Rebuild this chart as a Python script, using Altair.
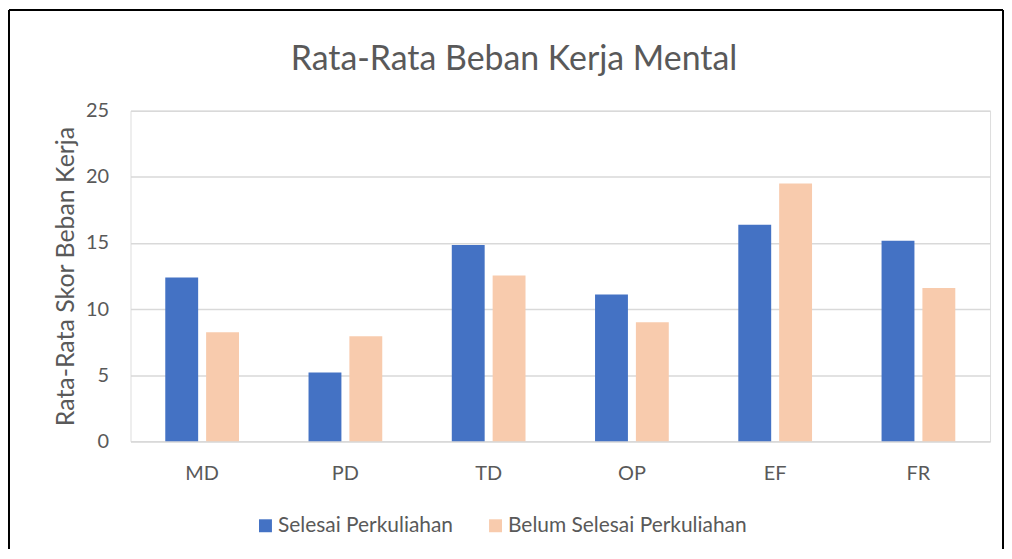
import altair as alt
import pandas as pd

categories = ["MD", "PD", "TD", "OP", "EF", "FR"]
series_names = ["Selesai Perkuliahan", "Belum Selesai Perkuliahan"]
selesai = [12.38, 5.2, 14.85, 11.1, 16.37, 15.16]
belum = [8.25, 7.95, 12.53, 9.0, 19.5, 11.6]
y_ticks = [0, 5, 10, 15, 20, 25]
colors = ["#4472C4", "#F8CBAD"]
title_text = "Rata-Rata Beban Kerja Mental"
y_title = "Rata-Rata Skor Beban Kerja"

rows = []
for c, a, b in zip(categories, selesai, belum):
    rows.append({"kat": c, "seri": series_names[0], "nilai": a})
    rows.append({"kat": c, "seri": series_names[1], "nilai": b})
df = pd.DataFrame(rows)

FONT = "Lato"
TXT = "#595959"
W, H = 863, 332

bars = alt.Chart(df).mark_bar().encode(
    x=alt.X("kat:N", sort=categories,
            scale=alt.Scale(paddingInner=0, paddingOuter=0),
            axis=alt.Axis(title=None, labelAngle=0, ticks=False, domain=True,
                          domainColor="#D9D9D9", domainWidth=1.5,
                          labelPadding=22, labelFontSize=20, labelColor=TXT,
                          labelFont=FONT)),
    xOffset=alt.XOffset("seri:N", sort=series_names,
                        scale=alt.Scale(paddingInner=0.195, paddingOuter=0.851)),
    y=alt.Y("nilai:Q", scale=alt.Scale(domain=[0, 25], nice=False),
            axis=alt.Axis(values=y_ticks, title=y_title, ticks=False, domain=False,
                          gridColor="#D9D9D9", gridWidth=1.5,
                          labelPadding=22, labelFontSize=20, labelColor=TXT,
                          labelFont=FONT, titleFont=FONT, titleFontSize=25,
                          titleFontWeight="normal", titleColor=TXT,
                          titlePadding=7)),
    color=alt.Color("seri:N", sort=series_names,
                    scale=alt.Scale(domain=series_names, range=colors),
                    legend=alt.Legend(title=None, orient="none", direction="horizontal",
                                      columns=2, legendX=125, legendY=406,
                                      symbolType="square", symbolSize=169,
                                      symbolStrokeWidth=0, labelFontSize=21,
                                      labelColor=TXT, labelFont=FONT, labelLimit=400,
                                      labelOffset=2, columnPadding=32, padding=0)),
)

title_df = pd.DataFrame({"t": [title_text]})
title_mark = alt.Chart(title_df).mark_text(
    font=FONT, fontSize=34, color=TXT, align="center", baseline="alphabetic"
).encode(text="t:N", x=alt.value(385), y=alt.value(-41))

frame_df = pd.DataFrame({"k": [1]})
frame_top = alt.Chart(frame_df).mark_rule(color="black", strokeWidth=2).encode(
    x=alt.value(-122), x2=alt.value(876), y=alt.value(-101))
frame_left = alt.Chart(frame_df).mark_rule(color="black", strokeWidth=2).encode(
    x=alt.value(-122), y=alt.value(-101), y2=alt.value(440))
frame_right = alt.Chart(frame_df).mark_rule(color="black", strokeWidth=2).encode(
    x=alt.value(876), y=alt.value(-101), y2=alt.value(440))

chart = alt.layer(bars, title_mark, frame_top, frame_left, frame_right).properties(
    width=W, height=H, padding=0
).configure_view(stroke=None).configure(background="white")

chart.save("out.html", embed_options={"renderer": "svg", "actions": False})
